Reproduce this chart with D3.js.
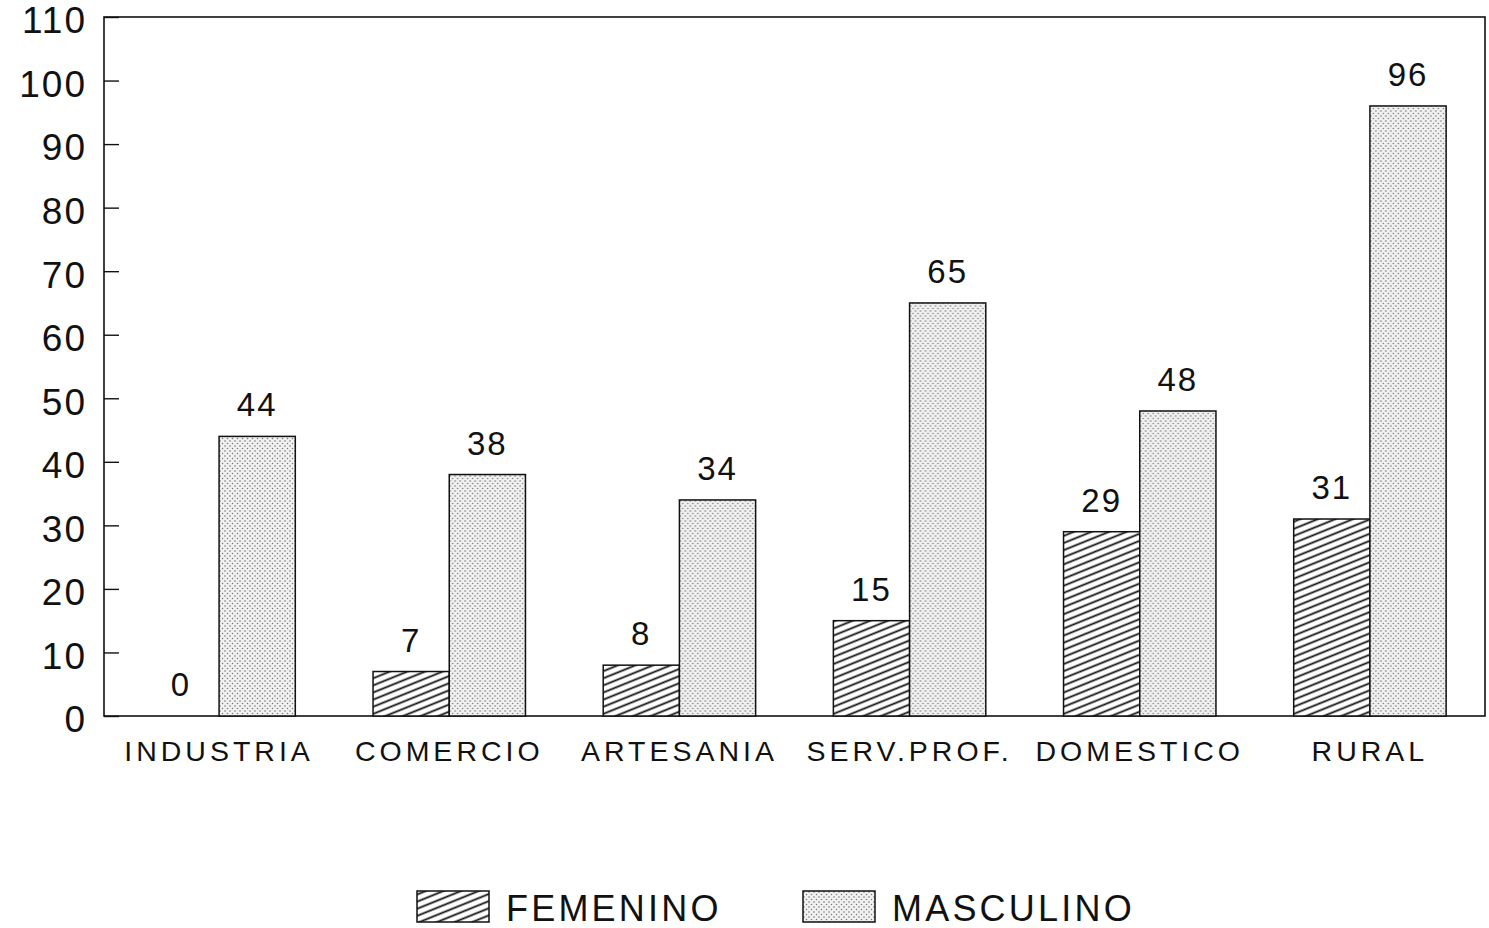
<!DOCTYPE html>
<html>
<head>
<meta charset="utf-8">
<script src="https://cdn.jsdelivr.net/npm/d3@7"></script>
<style>
  body { margin: 0; background: #fff; }
  text { font-family: "Liberation Sans", Arial, sans-serif; fill: #111; }
</style>
</head>
<body>
<div id="chart"></div>
<script>
// data
const categorias = ["INDUSTRIA", "COMERCIO", "ARTESANIA", "SERV.PROF.", "DOMESTICO", "RURAL"];
const series = ["FEMENINO", "MASCULINO"];
const femenino = [0, 7, 8, 15, 29, 31];
const masculino = [44, 38, 34, 65, 48, 96];
const ticksY = [0, 10, 20, 30, 40, 50, 60, 70, 80, 90, 100, 110];

const width = 1489;
const height = 928;
const margin = {left: 104, right: 4, top: 17, bottom: 212};

const svg = d3.select("#chart")
    .append("svg")
    .attr("width", width)
    .attr("height", height)
    .style("display", "block");

// patterns
const defs = svg.append("defs");

const hatch = defs.append("pattern")
    .attr("id", "hatch")
    .attr("patternUnits", "userSpaceOnUse")
    .attr("width", 12)
    .attr("height", 6.6)
    .attr("patternTransform", "rotate(-22)");
hatch.append("rect").attr("width", 12).attr("height", 6.6).attr("fill", "#fff");
hatch.append("line")
    .attr("x1", 0).attr("x2", 12)
    .attr("y1", 3.3).attr("y2", 3.3)
    .attr("stroke", "#111")
    .attr("stroke-width", 1.8);

const dots = defs.append("pattern")
    .attr("id", "dots")
    .attr("patternUnits", "userSpaceOnUse")
    .attr("width", 5)
    .attr("height", 5);
dots.append("rect").attr("width", 5).attr("height", 5).attr("fill", "#f1f1f1");
dots.append("circle").attr("cx", 1).attr("cy", 1).attr("r", 0.75).attr("fill", "#666");
dots.append("circle").attr("cx", 3.5).attr("cy", 3.5).attr("r", 0.75).attr("fill", "#777");

const fills = {FEMENINO: "url(#hatch)", MASCULINO: "url(#dots)"};

// scales
const x = d3.scaleBand()
    .domain(categorias)
    .range([margin.left, width - margin.right])
    .padding(0);

const xSub = d3.scaleBand()
    .domain(series)
    .range([0, x.bandwidth()])
    .paddingInner(0)
    .paddingOuter(0.51);

const y = d3.scaleLinear()
    .domain([0, 110])
    .range([height - margin.bottom, margin.top]);

// frame
svg.append("rect")
    .attr("x", margin.left)
    .attr("y", margin.top)
    .attr("width", width - margin.right - margin.left)
    .attr("height", y(0) - margin.top)
    .attr("fill", "none")
    .attr("stroke", "#111")
    .attr("stroke-width", 1.6);

// y axis, ticks pointing inward
const yAxis = svg.append("g")
    .attr("transform", `translate(${margin.left},0)`)
    .call(d3.axisRight(y).tickValues(ticksY).tickSize(15).tickFormat(""));
yAxis.select(".domain").remove();
yAxis.selectAll(".tick line").attr("stroke", "#111").attr("stroke-width", 1.4);

svg.append("g")
    .selectAll("text")
    .data(ticksY)
    .join("text")
    .attr("x", 87)
    .attr("y", d => y(d) + 3)
    .attr("dy", "0.36em")
    .attr("text-anchor", "end")
    .attr("letter-spacing", 2)
    .style("font-size", "37px")
    .text(d => d);

// bars
const rows = categorias.map((c, i) => ({cat: c, FEMENINO: femenino[i], MASCULINO: masculino[i]}));

const groups = svg.append("g")
    .selectAll("g")
    .data(rows)
    .join("g")
    .attr("transform", d => `translate(${x(d.cat)},0)`);

groups.selectAll("rect")
    .data(d => series.map(s => ({key: s, value: d[s]})).filter(e => e.value > 0))
    .join("rect")
    .attr("x", d => xSub(d.key))
    .attr("y", d => y(d.value))
    .attr("width", xSub.bandwidth())
    .attr("height", d => y(0) - y(d.value))
    .attr("fill", d => fills[d.key])
    .attr("stroke", "#111")
    .attr("stroke-width", 1.5);

groups.selectAll("text.val")
    .data(d => series.map(s => ({key: s, value: d[s]})))
    .join("text")
    .attr("class", "val")
    .attr("x", d => xSub(d.key) + xSub.bandwidth() / 2)
    .attr("y", d => y(d.value) - 20)
    .attr("text-anchor", "middle")
    .attr("letter-spacing", 2)
    .style("font-size", "33px")
    .text(d => d.value);

// category labels
svg.append("g")
    .selectAll("text")
    .data(categorias)
    .join("text")
    .attr("x", d => x(d) + x.bandwidth() / 2)
    .attr("y", 761)
    .attr("text-anchor", "middle")
    .attr("letter-spacing", 4)
    .style("font-size", "28.5px")
    .text(d => d);

// legend
const legendX = [417, 803];
const legend = svg.append("g")
    .selectAll("g")
    .data(series)
    .join("g")
    .attr("transform", (d, i) => `translate(${legendX[i]},891)`);

legend.append("rect")
    .attr("width", 72)
    .attr("height", 31)
    .attr("fill", d => fills[d])
    .attr("stroke", "#111")
    .attr("stroke-width", 1.5);

legend.append("text")
    .attr("x", 89)
    .attr("y", 30)
    .attr("letter-spacing", 3.2)
    .style("font-size", "36px")
    .text(d => d);
</script>
</body>
</html>
